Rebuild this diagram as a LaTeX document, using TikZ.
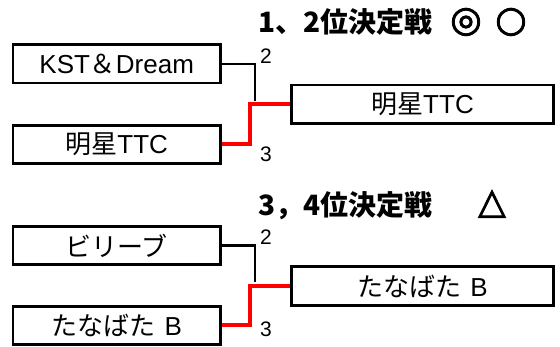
\documentclass[tikz,border=0pt]{standalone}
\usepackage{fontspec}
\setmainfont{Liberation Sans}
\newfontfamily\jp{Noto Sans CJK JP}
\newfontfamily\sym[FakeBold=2.5]{DejaVu Sans}
\usetikzlibrary{backgrounds}
\begin{document}
\begin{tikzpicture}[x=1pt,y=-1pt,
  team/.style={draw, line width=2.7pt, minimum height=38.5pt, inner sep=0pt,
    font=\fontsize{26}{26}\selectfont},
  title/.style={font=\jp\bfseries\fontsize{28}{28}\selectfont, inner sep=0pt},
  symb/.style={font=\sym\fontsize{36}{36}\selectfont, inner sep=0pt},
  seed/.style={font=\fontsize{21}{21}\selectfont, inner sep=0pt},
  lose/.style={line width=2.4pt, black},
  win/.style={line width=4pt, red}]
\useasboundingbox (0,0) rectangle (560,347);
% --- 1,2 ---
\node[title, anchor=west] (h1) at (258,22) {1、2位決定戦};
\node[symb] (m1) at (466,22) {◎};
\node[symb] (n1) at (511,22) {○};
\node[team, minimum width=207.3pt] (a1) at (116.7,63.8) {KST{\jp ＆}Dream};
\node[team, minimum width=207.3pt] (b1) at (116.7,144.5) {{\jp 明星}TTC};
\node[team, minimum width=261.6pt] (w1) at (422.5,104.3) {{\jp 明星}TTC};
\node[seed] (s1) at (266,55.7) {2};
\node[seed] (t1) at (266,154) {3};
\coordinate (j1) at (254.7,101);
\coordinate (k1) at (250,104.3);
% --- 3,4 ---
\node[title, anchor=west] (h2) at (258,205.5) {3，4位決定戦};
\node[symb] (m2) at (492,204) {△};
\node[team, minimum width=207.3pt] (a2) at (116.7,245.5) {{\jp ビリーブ}};
\node[team, minimum width=207.3pt] (b2) at (116.7,325.5) {{\jp たなばた}\hspace{9pt}B};
\node[team, minimum width=261.6pt] (w2) at (422.5,286) {{\jp たなばた}\hspace{9pt}B};
\node[seed] (s2) at (266,236.7) {2};
\node[seed] (t2) at (266,329) {3};
\coordinate (j2) at (254.7,282.5);
\coordinate (k2) at (250,286);
\begin{scope}[on background layer]
  \draw[lose] (a1.east) -| (j1);
  \draw[win] (b1.east) -| (k1) -- (w1.west);
  \draw[lose] (a2.east) -| (j2);
  \draw[win] (b2.east) -| (k2) -- (w2.west);
\end{scope}
\end{tikzpicture}
\end{document}
